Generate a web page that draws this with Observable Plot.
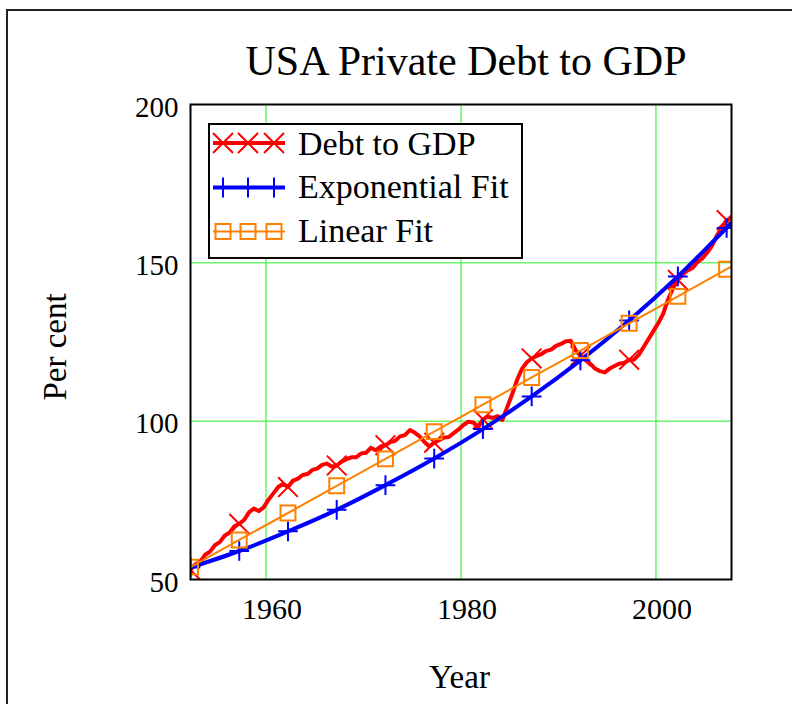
<!DOCTYPE html>
<html><head><meta charset="utf-8">
<script src="https://cdn.jsdelivr.net/npm/d3@7"></script>
<script src="https://cdn.jsdelivr.net/npm/@observablehq/plot@0.6"></script>
<style>
html,body{margin:0;padding:0;background:#fff;overflow:hidden;}
#wrap{position:relative;width:792px;height:704px;overflow:hidden;background:#fff;}
#border{position:absolute;left:6px;top:9px;width:900px;height:900px;border-left:2px solid #222;border-top:2px solid #222;}
#chart{position:absolute;left:0;top:0;}
#overlay{position:absolute;left:0;top:0;}
</style></head>
<body>
<div id="wrap"><div id="border"></div><div id="chart"></div>
<svg id="overlay" width="792" height="704" font-family="'Liberation Serif','Times New Roman',serif"></svg>
</div>
<script>
// ---- Data ----
const title = "USA Private Debt to GDP";
const xLabel = "Year";
const yLabel = "Per cent";
const seriesNames = ["Debt to GDP", "Exponential Fit", "Linear Fit"];
const seriesColors = ["#ff0000", "#0000ff", "#ff8000"];
const xTicks = [1960, 1980, 2000];
const yTicks = [50, 100, 150, 200];

// Debt to GDP, half-yearly from 1952.25
const debtStart = 1952.25, debtStep = 0.5;
const debt = [
  53, 54.8, 55.6, 57.8, 58.8, 60.8, 61.8, 63.8, 64.8, 66.8,
  67.6, 68.8, 71.2, 72.4, 71.6, 72.8, 75.2, 77.2, 79.2, 80.2,
  79.2, 81.2, 81.8, 83, 83.3, 84.6, 85, 86.2, 86.6, 85.6,
  86, 87.2, 88, 88.6, 88.6, 89.8, 90, 91.6, 90.8, 92,
  92.4, 93.4, 93.8, 95.2, 95.6, 97.2, 96.4, 95.2, 93.4, 92,
  93.2, 94, 94.8, 95, 96.2, 97.4, 98.8, 99.8, 99.6, 98,
  100.6, 101.4, 101, 101.6, 100.4, 104.5, 108.5, 113, 116.5, 118.6,
  119.8, 120.6, 121.2, 122.2, 122.6, 123.8, 124.4, 125.2, 125.4, 122.5,
  120.6, 119.4, 118.2, 116.6, 115.8, 115.4, 116.6, 117.4, 118.2, 118.4,
  119.4, 119.4, 121, 123.5, 126, 128.5, 131, 134, 138.5, 142,
  144.6, 146.4, 147.6, 148.4, 150.2, 151.4, 153.2, 155.4, 158.6, 161,
  163.5, 164
];

// Fit curves read at marker years (plus the end point)
const fitYears = [1952.25, 1957.25, 1962.25, 1967.25, 1972.25, 1977.25, 1982.25, 1987.25, 1992.25, 1997.25, 2002.25, 2007.25, 2007.75];
const expFit   = [53.8, 59.0, 65.2, 72.0, 79.8, 88.2, 97.5, 107.8, 119.2, 131.8, 145.7, 161.0, 162.5];
const linFit   = [53.9, 62.5, 71.0, 79.6, 88.1, 96.7, 105.2, 113.8, 122.3, 130.9, 139.4, 148.0, 148.8];

// ---- Build tables ----
const debtData = debt.map((v, i) => ({year: debtStart + debtStep * i, value: v}));
const debtMarks = debtData.filter((d, i) => i % 10 === 0);
const expData = fitYears.map((y, i) => ({year: y, value: expFit[i]}));
const linData = fitYears.map((y, i) => ({year: y, value: linFit[i]}));
const expMarks = expData.slice(0, -1);
const linMarks = linData.slice(0, -1);

const font = "'Liberation Serif','Times New Roman',serif";
const green = "#22ee22";

const chart = Plot.plot({
  width: 792, height: 704,
  marginLeft: 190, marginRight: 61, marginTop: 104, marginBottom: 125,
  style: {fontFamily: font, background: "transparent", color: "#000", overflow: "visible"},
  x: {domain: [1952.25, 2007.75]},
  y: {domain: [50, 200]},
  marks: [
    Plot.gridX(xTicks, {stroke: green, strokeOpacity: 1, strokeWidth: 1}),
    Plot.gridY(yTicks, {stroke: green, strokeOpacity: 1, strokeWidth: 1}),
    Plot.line(debtData, {x: "year", y: "value", stroke: seriesColors[0], strokeWidth: 4, clip: true}),
    Plot.dot(debtMarks, {x: "year", y: "value", symbol: "times", r: 9, fill: "none", stroke: seriesColors[0], strokeWidth: 2, clip: true}),
    Plot.line(expData, {x: "year", y: "value", stroke: seriesColors[1], strokeWidth: 4, curve: "monotone-x", clip: true}),
    Plot.dot(expMarks, {x: "year", y: "value", symbol: "plus", r: 6.4, fill: "none", stroke: seriesColors[1], strokeWidth: 2, clip: true}),
    Plot.line(linData, {x: "year", y: "value", stroke: seriesColors[2], strokeWidth: 2, clip: true}),
    Plot.dot(linMarks, {x: "year", y: "value", symbol: "square2", r: 9.5, fill: "none", stroke: seriesColors[2], strokeWidth: 2, clip: true}),
    Plot.axisX(xTicks, {tickSize: 0, tickPadding: 18, fontSize: 30, dx: 6, label: null, tickFormat: d => String(d)}),
    Plot.axisY(yTicks, {tickSize: 0, tickPadding: 12, fontSize: 29, dy: 3, label: null, tickFormat: d => String(d)}),
    Plot.frame({stroke: "#000", strokeWidth: 2})
  ]
});
document.getElementById("chart").appendChild(chart);

// ---- Overlay: title, axis titles, legend ----
const ov = d3.select("#overlay");
ov.append("text").attr("x", 466).attr("y", 75).attr("text-anchor", "middle")
  .attr("font-size", 42).text(title);
ov.append("text").attr("x", 459.5).attr("y", 688).attr("text-anchor", "middle")
  .attr("font-size", 33).text(xLabel);
ov.append("text").attr("transform", "translate(66,347) rotate(-90)").attr("text-anchor", "middle")
  .attr("font-size", 33).text(yLabel);

const lg = ov.append("g");
lg.append("rect").attr("x", 209).attr("y", 124).attr("width", 313).attr("height", 134)
  .attr("fill", "#fff").attr("stroke", "#000").attr("stroke-width", 2);
const rowY = [143, 187.5, 231.5];
const baseY = [154.5, 198, 242];
const widths = [4, 4, 2];
const markerX = [223, 248, 274];
const shapes = [
  "M-10,-10L10,10M-10,10L10,-10",
  "M-10,0H10M0,-10V10",
  "M-7.5,-7.5H7.5V7.5H-7.5Z"
];
seriesNames.forEach((name, i) => {
  lg.append("line").attr("x1", 213).attr("x2", 285).attr("y1", rowY[i]).attr("y2", rowY[i])
    .attr("stroke", seriesColors[i]).attr("stroke-width", widths[i]);
  markerX.forEach(mx => {
    lg.append("path").attr("d", shapes[i]).attr("transform", `translate(${mx},${rowY[i]})`)
      .attr("fill", "none").attr("stroke", seriesColors[i]).attr("stroke-width", 2);
  });
  lg.append("text").attr("x", 298).attr("y", baseY[i]).attr("font-size", 34).text(name);
});
</script>
</body></html>
